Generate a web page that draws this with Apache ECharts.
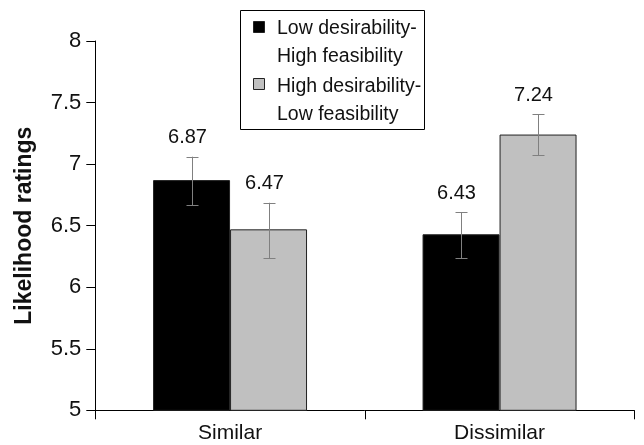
<!DOCTYPE html>
<html>
<head>
<meta charset="utf-8">
<script src="https://cdn.jsdelivr.net/npm/echarts@6/dist/echarts.min.js"></script>
<style>
  html, body { margin: 0; padding: 0; background: #fff; }
  #chart { width: 644px; height: 445px; }
</style>
</head>
<body>
<div id="chart"></div>
<script>
// ---- data ----
var categories = ['Similar', 'Dissimilar'];
var seriesNames = ['Low desirability-\nHigh feasibility', 'High desirability-\nLow feasibility'];
var lowDesHighFeas = [6.87, 6.43];
var highDesLowFeas = [6.47, 7.24];
var errLowA = [6.665, 6.235];
var errHighA = [7.06, 6.61];
var errLowB = [6.237, 7.074];
var errHighB = [6.686, 7.405];
var yTicks = [5, 5.5, 6, 6.5, 7, 7.5, 8];

var FONT = '"Liberation Sans", Arial, Helvetica, sans-serif';
var BAR_FRAC = 0.2857;
var colors = ['#000000', '#c0c0c0'];

function errSeries(values, lows, highs, sign) {
  var data = values.map(function (v, i) { return [i, v, lows[i], highs[i]]; });
  return {
    type: 'custom',
    z: 10,
    silent: true,
    data: data,
    renderItem: function (params, api) {
      var i = api.value(0);
      var band = api.size([1, 0])[0];
      var off = sign * band * BAR_FRAC / 2;
      var pLo = api.coord([i, api.value(2)]);
      var pHi = api.coord([i, api.value(3)]);
      var x = Math.round(pLo[0] + off) + 0.5;
      var yLo = pLo[1], yHi = pHi[1];
      var cap = 6;
      var st = { stroke: '#808080', lineWidth: 1 };
      return {
        type: 'group',
        children: [
          { type: 'line', shape: { x1: x, y1: yLo, x2: x, y2: yHi }, style: st },
          { type: 'line', shape: { x1: x - cap, y1: Math.round(yLo) + 0.5, x2: x + cap, y2: Math.round(yLo) + 0.5 }, style: st },
          { type: 'line', shape: { x1: x - cap, y1: Math.round(yHi) + 0.5, x2: x + cap, y2: Math.round(yHi) + 0.5 }, style: st },
          { type: 'text', style: {
              text: api.value(1).toFixed(2), x: x - 5, y: yHi - 19,
              align: 'center', verticalAlign: 'middle',
              font: '20px ' + FONT, fill: '#111' } }
        ]
      };
    }
  };
}

var legendGraphics = [
  { type: 'rect', shape: { x: 240.5, y: 10.5, width: 184, height: 119 },
    style: { fill: '#fff', stroke: '#000', lineWidth: 1 }, z: 20 }
];
var legendTops = [15, 73];
var iconTops = [21, 78];
seriesNames.forEach(function (name, k) {
  legendGraphics.push({ type: 'rect', shape: { x: 253.5, y: iconTops[k] + 0.5, width: 11, height: 11 },
    style: { fill: colors[k], stroke: '#222', lineWidth: 1 }, z: 21 });
  legendGraphics.push({ type: 'text', x: 277, y: legendTops[k], z: 21,
    style: { text: name, font: '19.5px ' + FONT, lineHeight: 28, fill: '#111', verticalAlign: 'top' } });
});

var chart = echarts.init(document.getElementById('chart'), null, { renderer: 'canvas' });
chart.setOption({
  animation: false,
  backgroundColor: '#fff',
  grid: { left: 95.3, right: 9.7, top: 41, bottom: 34.7, containLabel: false },
  xAxis: {
    type: 'category',
    data: categories,
    boundaryGap: true,
    axisLine: { lineStyle: { color: '#000', width: 1 } },
    axisTick: { show: true, length: 9, lineStyle: { color: '#000' } },
    axisLabel: { fontSize: 21, fontFamily: FONT, color: '#111', margin: 12 }
  },
  yAxis: {
    type: 'value',
    min: yTicks[0],
    max: yTicks[yTicks.length - 1],
    interval: 0.5,
    name: 'Likelihood ratings',
    nameLocation: 'middle',
    nameGap: 59,
    nameTextStyle: { fontSize: 23, fontWeight: 'bold', fontFamily: FONT, color: '#111' },
    axisLine: { show: true, lineStyle: { color: '#000', width: 1 } },
    axisTick: { show: true, length: 9, lineStyle: { color: '#000' } },
    axisLabel: { fontSize: 22, fontFamily: FONT, color: '#111', margin: 14 },
    splitLine: { show: false }
  },
  series: [
    { name: seriesNames[0], type: 'bar', data: lowDesHighFeas, barWidth: (BAR_FRAC * 100) + '%', barGap: '0%',
      itemStyle: { color: colors[0], borderColor: '#222', borderWidth: 1 } },
    { name: seriesNames[1], type: 'bar', data: highDesLowFeas, barWidth: (BAR_FRAC * 100) + '%', barGap: '0%',
      itemStyle: { color: colors[1], borderColor: '#222', borderWidth: 1 } },
    errSeries(lowDesHighFeas, errLowA, errHighA, -1),
    errSeries(highDesLowFeas, errLowB, errHighB, 1)
  ],
  graphic: legendGraphics
});
</script>
</body>
</html>
